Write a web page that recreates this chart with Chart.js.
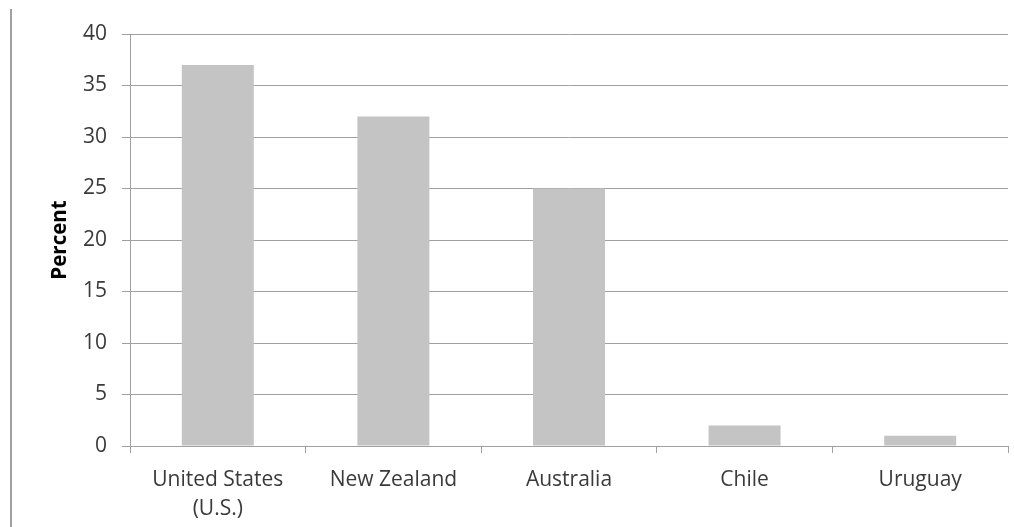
<!DOCTYPE html>
<html>
<head>
<meta charset="utf-8">
<script src="https://cdn.jsdelivr.net/npm/chart.js@4/dist/chart.umd.min.js"></script>
<style>
  html, body { margin: 0; padding: 0; background: #fff; }
  #wrap { width: 1014px; height: 527px; position: relative; }
</style>
</head>
<body>
<div id="wrap"><canvas id="chart"></canvas></div>
<script>
const countries = [["United States", "(U.S.)"], "New Zealand", "Australia", "Chile", "Uruguay"];
const percent = [37, 32, 25, 2, 1];
const yTicks = [0, 5, 10, 15, 20, 25, 30, 35, 40];

const lineGray = "#a0a0a0";
const textColor = "#3a3a3a";

// thin frame line down the left edge of the figure
const leftRule = {
    id: "leftRule",
    afterDraw(chart) {
        const c = chart.ctx;
        c.save();
        c.strokeStyle = "#a0a0a0";
        c.lineWidth = 2;
        c.beginPath();
        c.moveTo(11, 9);
        c.lineTo(11, 527);
        c.stroke();
        c.restore();
    }
};

const ctx = document.getElementById("chart").getContext("2d");
new Chart(ctx, {
    type: "bar",
    data: {
        labels: countries,
        datasets: [{
            label: "Percent",
            data: percent,
            backgroundColor: "#c4c4c4",
            borderWidth: 0,
            barPercentage: 0.41,
            categoryPercentage: 1
        }]
    },
    options: {
        responsive: true,
        maintainAspectRatio: false,
        animation: false,
        layout: { padding: { left: 48, right: 6, top: 34, bottom: 0 } },
        plugins: {
            legend: { display: false },
            tooltip: { enabled: false }
        },
        scales: {
            x: {
                grid: {
                    offset: true,
                    drawOnChartArea: false,
                    color: lineGray,
                    tickLength: 7
                },
                border: { color: lineGray },
                ticks: {
                    color: textColor,
                    font: { family: "Open Sans", size: 21, lineHeight: 1.35 },
                    padding: 13,
                    maxRotation: 0
                },
                afterFit(scale) { scale.height = 81; }
            },
            y: {
                min: 0,
                max: 40,
                afterBuildTicks(scale) {
                    scale.ticks = yTicks.map(v => ({ value: v }));
                },
                grid: { color: lineGray, tickLength: 8 },
                border: { color: lineGray },
                ticks: {
                    color: textColor,
                    font: { family: "Open Sans", size: 21 },
                    padding: 15
                },
                title: {
                    display: true,
                    text: "Percent",
                    color: "#000",
                    font: { family: "Open Sans", size: 20.5, weight: "bold" },
                    padding: 0
                },
                afterFit(scale) { scale.width = 82; }
            }
        }
    },
    plugins: [leftRule]
});
</script>
</body>
</html>
